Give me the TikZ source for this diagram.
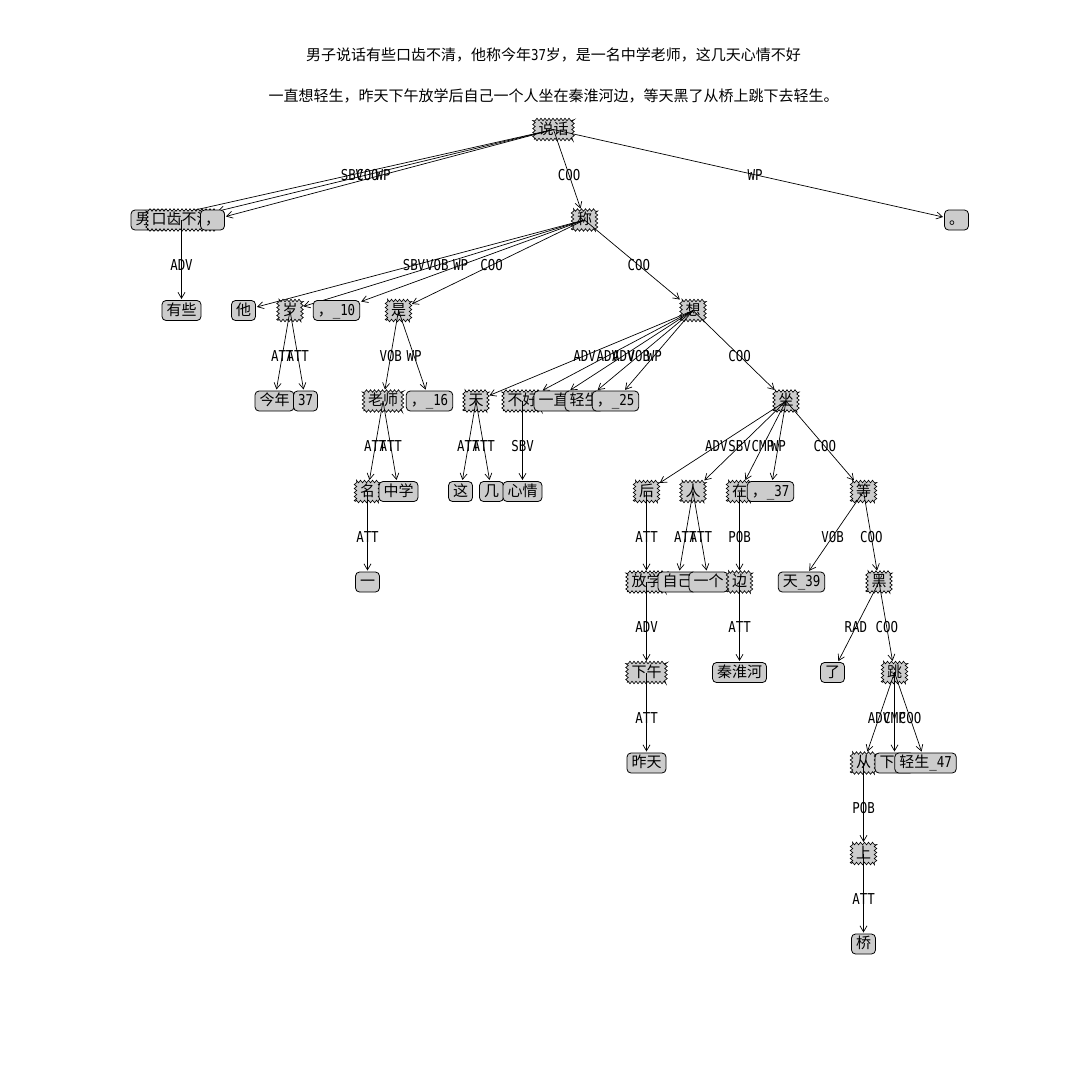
\documentclass[tikz,border=0pt]{standalone}
\usepackage{fontspec}
\setmainfont{Noto Sans CJK SC}
\newfontfamily\lat[FakeStretch=0.83]{DejaVu Sans Mono}
\usetikzlibrary{arrows.meta,calc,decorations.pathmorphing}
\definecolor{nodefill}{gray}{0.8}
\newcommand\fsz{\fontsize{15}{17}\selectfont}

\tikzset{
  box/.style={inner xsep=4.5pt, inner ysep=3pt, text height=11.5pt, text depth=2.5pt, font=\fsz, outer sep=0pt},
  ph/.style={box, rectangle},
  lbox/.style={box, draw, fill=nodefill, line width=0.8pt, rounded corners=4pt},
  tbox/.style={box, draw, fill=nodefill, line width=0.6pt, decorate,
               decoration={zigzag, segment length=4pt, amplitude=1.3pt}},
  rlab/.style={font={\lat\fsz}, inner sep=0pt},
  dep/.style={-{Straight Barb[length=6pt,width=7pt]}, line width=0.7pt, shorten >=1.5pt},
}

% reserve the outline of a word so that links can end at its border
\newcommand\setword[4]{\node[ph] (#1) at (#2,#3) {\phantom{#4}};}
% relation label, link from head to dependent, then the dependent's box
\newcommand\tiedep[5]{%
  \node[rlab] (r-#2) at ($(#1.center)!0.5!(#2.center)$) {#5};
  \draw[dep] (#1.center) -- (#2);
  \node[#3] (v-#2) at (#2.center) {#4};
}

\begin{document}
\begin{tikzpicture}[x=1pt,y=-1pt]
\path[fill=white] (0,0) rectangle (1080,1080);
\useasboundingbox (0,0) rectangle (1080,1080);

\node[font=\fsz, inner sep=0pt] (title1) at (553.5,55)
  {男子说话有些口齿不清，他称今年{\lat 37}岁，是一名中学老师，这几天心情不好};
\node[font=\fsz, inner sep=0pt] (title2) at (553.5,96)
  {一直想轻生，昨天下午放学后自己一个人坐在秦淮河边，等天黑了从桥上跳下去轻生。};

% word positions
\setword{shuohua}{553.5}{129.5}{说话}
\setword{nanzi}{150.5}{220}{男子}
\setword{kouchi}{181.5}{220}{口齿不清}
\setword{youxie}{181.5}{310.5}{有些}
\setword{douA}{212.5}{220}{，}
\setword{cheng}{584.5}{220}{称}
\setword{ta}{243.5}{310.5}{他}
\setword{sui}{290}{310.5}{岁}
\setword{jinnian}{274.5}{401}{今年}
\setword{sanqi}{305.5}{401}{{\lat 37}}
\setword{douB}{336.5}{310.5}{，{\lat\_10}}
\setword{shi}{398.5}{310.5}{是}
\setword{laoshi}{383}{401}{老师}
\setword{ming}{367.5}{491.5}{名}
\setword{yi}{367.5}{582}{一}
\setword{zhongxue}{398.5}{491.5}{中学}
\setword{douC}{429.5}{401}{，{\lat\_16}}
\setword{xiang}{693}{310.5}{想}
\setword{tian}{476}{401}{天}
\setword{zhe}{460.5}{491.5}{这}
\setword{ji}{491.5}{491.5}{几}
\setword{buhao}{522.5}{401}{不好}
\setword{xinqing}{522.5}{491.5}{心情}
\setword{yizhi}{553.5}{401}{一直}
\setword{qingsheng}{584.5}{401}{轻生}
\setword{douD}{615.5}{401}{，{\lat\_25}}
\setword{zuo}{786}{401}{坐}
\setword{hou}{646.5}{491.5}{后}
\setword{fangxue}{646.5}{582}{放学}
\setword{xiawu}{646.5}{672.5}{下午}
\setword{zuotian}{646.5}{763}{昨天}
\setword{ren}{693}{491.5}{人}
\setword{ziji}{677.5}{582}{自己}
\setword{yige}{708.5}{582}{一个}
\setword{zai}{739.5}{491.5}{在}
\setword{bian}{739.5}{582}{边}
\setword{qinhuai}{739.5}{672.5}{秦淮河}
\setword{douE}{770.5}{491.5}{，{\lat\_37}}
\setword{deng}{863.5}{491.5}{等}
\setword{tiansj}{801.5}{582}{天{\lat\_39}}
\setword{hei}{879}{582}{黑}
\setword{le}{832.5}{672.5}{了}
\setword{tiao}{894.5}{672.5}{跳}
\setword{cong}{863.5}{763}{从}
\setword{shang}{863.5}{853.5}{上}
\setword{qiao}{863.5}{944}{桥}
\setword{xiaqu}{894.5}{763}{下去}
\setword{qssq}{925.5}{763}{轻生{\lat\_47}}
\setword{juhao}{956.5}{220}{。}

% the tree, drawn depth first
\node[tbox] (v-shuohua) at (shuohua.center) {说话};
\tiedep{shuohua}{nanzi}{lbox}{男子}{SBV}
\tiedep{shuohua}{kouchi}{tbox}{口齿不清}{COO}
\tiedep{kouchi}{youxie}{lbox}{有些}{ADV}
\tiedep{shuohua}{douA}{lbox}{，}{WP}
\tiedep{shuohua}{cheng}{tbox}{称}{COO}
\tiedep{cheng}{ta}{lbox}{他}{SBV}
\tiedep{cheng}{sui}{tbox}{岁}{VOB}
\tiedep{sui}{jinnian}{lbox}{今年}{ATT}
\tiedep{sui}{sanqi}{lbox}{{\lat 37}}{ATT}
\tiedep{cheng}{douB}{lbox}{，{\lat\_10}}{WP}
\tiedep{cheng}{shi}{tbox}{是}{COO}
\tiedep{shi}{laoshi}{tbox}{老师}{VOB}
\tiedep{laoshi}{ming}{tbox}{名}{ATT}
\tiedep{ming}{yi}{lbox}{一}{ATT}
\tiedep{laoshi}{zhongxue}{lbox}{中学}{ATT}
\tiedep{shi}{douC}{lbox}{，{\lat\_16}}{WP}
\tiedep{cheng}{xiang}{tbox}{想}{COO}
\tiedep{xiang}{tian}{tbox}{天}{ADV}
\tiedep{tian}{zhe}{lbox}{这}{ATT}
\tiedep{tian}{ji}{lbox}{几}{ATT}
\tiedep{xiang}{buhao}{tbox}{不好}{ADV}
\tiedep{buhao}{xinqing}{lbox}{心情}{SBV}
\tiedep{xiang}{yizhi}{lbox}{一直}{ADV}
\tiedep{xiang}{qingsheng}{lbox}{轻生}{VOB}
\tiedep{xiang}{douD}{lbox}{，{\lat\_25}}{WP}
\tiedep{xiang}{zuo}{tbox}{坐}{COO}
\tiedep{zuo}{hou}{tbox}{后}{ADV}
\tiedep{hou}{fangxue}{tbox}{放学}{ATT}
\tiedep{fangxue}{xiawu}{tbox}{下午}{ADV}
\tiedep{xiawu}{zuotian}{lbox}{昨天}{ATT}
\tiedep{zuo}{ren}{tbox}{人}{SBV}
\tiedep{ren}{ziji}{lbox}{自己}{ATT}
\tiedep{ren}{yige}{lbox}{一个}{ATT}
\tiedep{zuo}{zai}{tbox}{在}{CMP}
\tiedep{zai}{bian}{tbox}{边}{POB}
\tiedep{bian}{qinhuai}{lbox}{秦淮河}{ATT}
\tiedep{zuo}{douE}{lbox}{，{\lat\_37}}{WP}
\tiedep{zuo}{deng}{tbox}{等}{COO}
\tiedep{deng}{tiansj}{lbox}{天{\lat\_39}}{VOB}
\tiedep{deng}{hei}{tbox}{黑}{COO}
\tiedep{hei}{le}{lbox}{了}{RAD}
\tiedep{hei}{tiao}{tbox}{跳}{COO}
\tiedep{tiao}{cong}{tbox}{从}{ADV}
\tiedep{cong}{shang}{tbox}{上}{POB}
\tiedep{shang}{qiao}{lbox}{桥}{ATT}
\tiedep{tiao}{xiaqu}{lbox}{下去}{CMP}
\tiedep{tiao}{qssq}{lbox}{轻生{\lat\_47}}{COO}
\tiedep{shuohua}{juhao}{lbox}{。}{WP}
\end{tikzpicture}
\end{document}
